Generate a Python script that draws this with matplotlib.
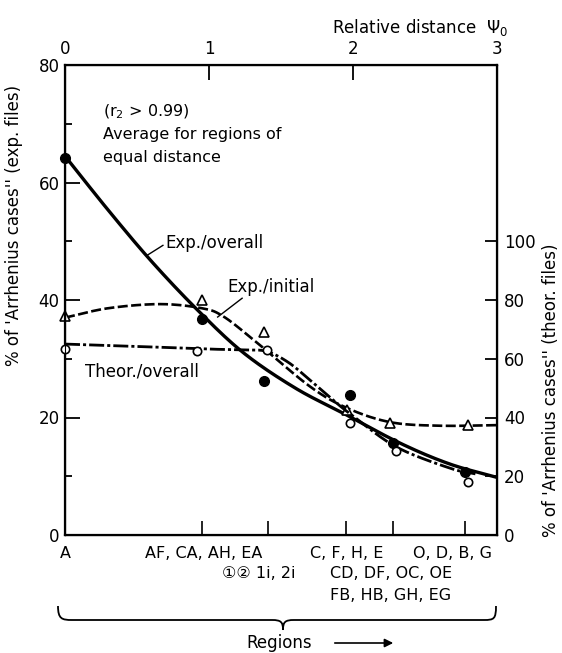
import numpy as np
import matplotlib
matplotlib.use("Agg")
import matplotlib.pyplot as plt
from matplotlib.path import Path
from matplotlib.patches import PathPatch, FancyArrowPatch

plt.rcParams['font.family'] = ['DejaVu Sans', 'Noto Sans CJK JP']

# ---------------- data ----------------
# measured points, x in relative distance psi0
psi_exp_overall = [0.0, 0.95, 1.38, 1.98, 2.28, 2.78]
exp_overall = [64.2, 36.8, 26.2, 23.8, 15.7, 10.7]          # left axis

psi_exp_initial = [0.0, 0.95, 1.38, 1.96, 2.26, 2.80]
exp_initial = [37.3, 40.0, 34.5, 21.3, 19.1, 18.7]          # left axis

psi_theor = [0.0, 0.92, 1.40, 1.98, 2.30, 2.80]
theor_overall = [63.4, 62.6, 63.0, 38.0, 28.6, 18.0]        # right axis

# fitted curves
curve_psi_eo = [0, 0.3, 0.6, 0.92, 1.24, 1.6, 1.95, 2.33, 2.67, 3.0]
curve_eo = [64.5, 55.3, 46.6, 38.3, 31.0, 25.0, 20.5, 15.6, 12.1, 9.8]

curve_psi_ei = [0, 0.3, 0.66, 0.95, 1.1, 1.33, 1.70, 1.96, 2.26, 2.6, 3.0]
curve_ei = [37.0, 38.6, 39.3, 38.6, 37.2, 32.8, 25.3, 21.6, 19.2, 18.6, 18.7]

curve_psi_to = [0, 0.5, 1.0, 1.25, 1.4, 1.55, 1.7, 1.86, 2.0, 2.3, 2.67, 2.85]
curve_to = [65.0, 64.2, 63.3, 63.0, 62.5, 58.8, 52.8, 46.0, 40.5, 30.0, 22.8, 20.8]

top_ticks = [0, 1, 2, 3]
left_ticks = [0, 20, 40, 60, 80]
left_minor = [10, 30, 50, 70]
right_ticks = [0, 20, 40, 60, 80, 100]
region_ticks = [0.95, 1.41, 1.95, 2.28, 2.78]
region_separators = [1.41, 2.28]


def smooth(xs, ys, n=30):
    P = np.column_stack([xs, ys]).astype(float)
    P = np.vstack([2 * P[0] - P[1], P, 2 * P[-1] - P[-2]])
    out = []
    t = np.linspace(0, 1, n, endpoint=False)[:, None]
    for i in range(1, len(P) - 2):
        p0, p1, p2, p3 = P[i - 1], P[i], P[i + 1], P[i + 2]
        seg = 0.5 * ((2 * p1) + (-p0 + p2) * t + (2 * p0 - 5 * p1 + 4 * p2 - p3) * t ** 2
                     + (-p0 + 3 * p1 - 3 * p2 + p3) * t ** 3)
        out.append(seg)
    out.append(P[-2][None])
    a = np.vstack(out)
    return a[:, 0], a[:, 1]


W, H = 562, 653
fig = plt.figure(figsize=(W / 100, H / 100), dpi=100)
L, R, T, B = 65, 497, 65, 535
ax = fig.add_axes([L / W, 1 - B / H, (R - L) / W, (B - T) / H])
ax.set_xlim(0, 3)
ax.set_ylim(0, 80)
for s in ax.spines.values():
    s.set_linewidth(1.6)

fs = 12
# left axis
ax.set_yticks(left_ticks)
ax.set_yticks(left_minor, minor=True)
ax.tick_params(axis='y', which='major', direction='in', length=11, width=1.3, labelsize=fs, pad=4)
ax.tick_params(axis='y', which='minor', direction='in', length=5, width=1.3)
# bottom region ticks
ax.set_xticks(region_ticks)
ax.set_xticklabels([])
ax.set_xticks(region_separators, minor=True)
ax.tick_params(axis='x', which='major', direction='in', length=10, width=1.2)
ax.tick_params(axis='x', which='minor', direction='out', length=24, width=1.2)

# top axis
axt = ax.twiny()
axt.set_xlim(0, 3)
axt.set_xticks(top_ticks)
axt.set_xticklabels([str(v) for v in top_ticks])
axt.tick_params(axis='x', direction='in', length=11, width=1.3, labelsize=fs, pad=5)

# right axis
axr = ax.twinx()
axr.set_ylim(0, 160)
axr.set_yticks(right_ticks)
axr.tick_params(axis='y', direction='in', length=9, width=1.3, labelsize=fs, pad=5)

# curves
x, y = smooth(curve_psi_eo, curve_eo)
ax.plot(x, y, color='black', lw=2.4, solid_capstyle='round')
x, y = smooth(curve_psi_ei, curve_ei)
ax.plot(x, y, color='black', lw=1.9, linestyle=(0, (3.8, 1.3)))
x, y = smooth(curve_psi_to, curve_to)
axr.plot(x, y, color='black', lw=2.0, linestyle=(0, (5.4, 1.1, 1.1, 1.1)))

# markers
ax.plot(psi_exp_overall, exp_overall, 'o', color='black', ms=7, clip_on=False)
ax.plot(psi_exp_initial, exp_initial, '^', mfc='white', mec='black', mew=1.2, ms=6.5, clip_on=False)
axr.plot(psi_theor, theor_overall, 'o', mfc='white', mec='black', mew=1.2, ms=6, clip_on=False)

# annotations inside
ax.text(0.264, 72.0, '(r$_2$ > 0.99)', fontsize=11.5, ha='left', va='center')
ax.text(0.264, 68.1, 'Average for regions of', fontsize=11.5, ha='left', va='center')
ax.text(0.264, 64.2, 'equal distance', fontsize=11.5, ha='left', va='center')
ax.text(0.70, 49.7, 'Exp./overall', fontsize=12, ha='left', va='center')
ax.plot([0.57, 0.68], [47.6, 49.3], color='black', lw=1.0)
ax.text(1.13, 42.2, 'Exp./initial', fontsize=12, ha='left', va='center')
ax.plot([1.06, 1.23], [37.1, 40.3], color='black', lw=1.0)
ax.text(0.14, 27.9, 'Theor./overall', fontsize=12, ha='left', va='center')

# region labels below axis
ax.text(0.0, -3.1, 'A', fontsize=11.5, ha='center', va='center')
ax.text(1.37, -3.1, 'AF, CA, AH, EA', fontsize=11.5, ha='right', va='center')
ax.text(2.21, -3.1, 'C, F, H, E', fontsize=11.5, ha='right', va='center')
ax.text(2.965, -3.1, 'O, D, B, G', fontsize=11.5, ha='right', va='center')
ax.text(1.09, -6.6, '\u2460\u2461 1i, 2i', fontsize=11.5, ha='left', va='center',
        family=['DejaVu Sans', 'Noto Sans CJK JP'])
ax.text(1.84, -6.6, 'CD, DF, OC, OE', fontsize=11.5, ha='left', va='center')
ax.text(1.84, -10.3, 'FB, HB, GH, EG', fontsize=11.5, ha='left', va='center')

# axis titles
fig.text(14 / W, 1 - 225 / H, "% of 'Arrhenius cases'' (exp. files)", rotation=90,
         fontsize=12, ha='center', va='center')
fig.text(551 / W, 1 - 390 / H, "% of 'Arrhenius cases'' (theor. files)", rotation=90,
         fontsize=12, ha='center', va='center')
fig.text(508 / W, 1 - 27 / H, 'Relative distance  \u03a8$_0$', fontsize=12, ha='right', va='center')


# brace (figure pixel helpers)
def fx(px):
    return px / W


def fy(py):
    return 1 - py / H


verts = [(fx(58), fy(606)),
         (fx(58), fy(619)), (fx(62), fy(620)), (fx(72), fy(620)),
         (fx(272), fy(620)),
         (fx(281), fy(620)), (fx(283), fy(622)), (fx(283), fy(630)),
         (fx(283), fy(622)), (fx(285), fy(620)), (fx(294), fy(620)),
         (fx(484), fy(620)),
         (fx(494), fy(620)), (fx(496), fy(619)), (fx(496), fy(606))]
codes = [Path.MOVETO,
         Path.CURVE4, Path.CURVE4, Path.CURVE4,
         Path.LINETO,
         Path.CURVE4, Path.CURVE4, Path.CURVE4,
         Path.CURVE4, Path.CURVE4, Path.CURVE4,
         Path.LINETO,
         Path.CURVE4, Path.CURVE4, Path.CURVE4]
brace = PathPatch(Path(verts, codes), transform=fig.transFigure, fill=False, lw=1.3,
                  edgecolor='black', facecolor='none')
fig.patches.append(brace)

fig.text(246 / W, 1 - 643 / H, 'Regions', fontsize=12, ha='left', va='center')
arr = FancyArrowPatch((fx(332), fy(643)), (fx(396), fy(643)), transform=fig.transFigure,
                      arrowstyle='-|>,head_length=5,head_width=2.5', lw=1.2, color='black')
fig.patches.append(arr)

fig.savefig('out.png', dpi=100, facecolor='white')
